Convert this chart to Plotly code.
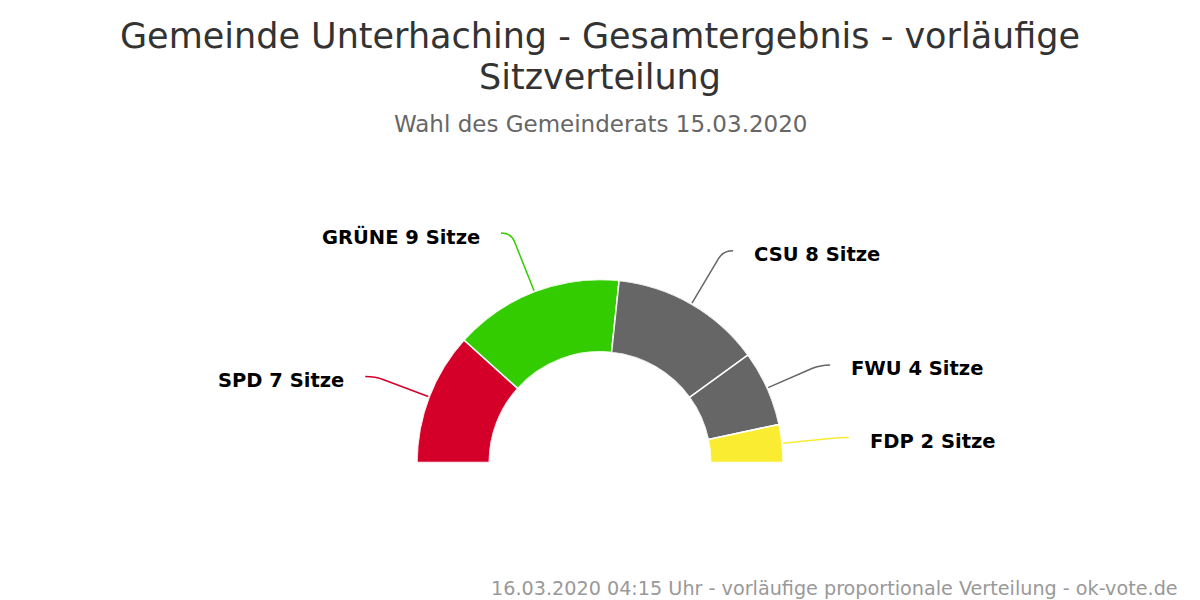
import math
import plotly.graph_objects as go

# ---- data ----
parties = ["SPD", "GRÜNE", "CSU", "FWU", "FDP"]
seats = [7, 9, 8, 4, 2]
colors = ["#d4002a", "#33cc00", "#666666", "#666666", "#f9ec31"]
title_line1 = "Gemeinde Unterhaching - Gesamtergebnis - vorläufige"
title_line2 = "Sitzverteilung"
subtitle = "Wahl des Gemeinderats 15.03.2020"
footer = "16.03.2020 04:15 Uhr - vorläufige proportionale Verteilung - ok-vote.de"

# ---- layout constants (pixels) ----
W, H = 1200, 600
CX, CY = 600.0, 462.5      # centre of the half donut
R = 183.0                   # outer radius
HOLE = 0.605
LABEL_R = 250.0
FONT = "DejaVu Sans, Verdana, sans-serif"

total = sum(seats)
deg_per_seat = 180.0 / total

# barpolar positions (theta measured clockwise from the left)
widths = [s * deg_per_seat for s in seats]
centers = []
acc = 0.0
for w in widths:
    centers.append(acc + w / 2)
    acc += w

fig = go.Figure()
fig.add_trace(go.Barpolar(
    r=[1] * len(seats),
    theta=centers,
    width=widths,
    marker=dict(color=colors, line=dict(color="white", width=1.5)),
    text=[f"{p} {s} Sitze" for p, s in zip(parties, seats)],
    hoverinfo="text",
    showlegend=False,
))


def px_to_paper(x, y):
    return x / W, 1 - y / H


shapes = []
annotations = []
for p, s, c, col in zip(parties, seats, centers, colors):
    a_deg = 180.0 - c                     # standard maths angle of slice middle
    ang = math.radians(a_deg)
    side = -1 if math.cos(ang) < 0 else 1  # -1: label on the left
    # label anchor drifts slightly towards the horizontal
    a_lab = math.radians(a_deg - side * 2.5 * math.sin(ang))
    ax, ay = CX + (R + 1) * math.cos(ang), CY - (R + 1) * math.sin(ang)
    dx, dy = CX + LABEL_R * math.cos(a_lab), CY - LABEL_R * math.sin(a_lab)
    cx_, cy_ = dx - side * 10, dy
    vx, vy = ax - cx_, ay - cy_
    L = math.hypot(vx, vy)
    px_, py_ = cx_ + vx * 9 / L, cy_ + vy * 9 / L
    pts = [(ax, ay), (px_, py_), (cx_, cy_), (dx, dy)]
    pp = [px_to_paper(*q) for q in pts]
    path = (f"M {pp[0][0]},{pp[0][1]} L {pp[1][0]},{pp[1][1]} "
            f"Q {pp[2][0]},{pp[2][1]} {pp[3][0]},{pp[3][1]}")
    shapes.append(dict(type="path", path=path, xref="paper", yref="paper",
                       line=dict(color=col, width=1.5)))
    lx, ly = px_to_paper(dx + side * 19, dy + 4)
    annotations.append(dict(
        text=f"<b>{p} {s} Sitze</b>", x=lx, y=ly, xref="paper", yref="paper",
        xanchor="left" if side > 0 else "right", yanchor="middle",
        showarrow=False, font=dict(family=FONT, size=19.5, color="#000000"),
    ))

# titles
for txt, y, size, color in [(title_line1, 36, 35, "#333333"),
                            (title_line2, 77, 35, "#333333"),
                            (subtitle, 124, 23, "#666666")]:
    annotations.append(dict(text=txt, x=0.5, y=1 - y / H, xref="paper", yref="paper",
                            xanchor="center", yanchor="middle", showarrow=False,
                            font=dict(family=FONT, size=size, color=color)))
annotations.append(dict(text=footer, x=1180 / W, y=1 - 588 / H, xref="paper", yref="paper",
                        xanchor="right", yanchor="middle", showarrow=False,
                        font=dict(family=FONT, size=19.2, color="#999999")))

dom_x = [(CX - R) / W, (CX + R) / W]
dom_y = [(H - CY) / H, (H - CY + R) / H]

fig.update_layout(
    width=W, height=H, autosize=False,
    margin=dict(l=0, r=0, t=0, b=0),
    paper_bgcolor="white", plot_bgcolor="white",
    polar=dict(
        domain=dict(x=dom_x, y=dom_y),
        sector=[0, 180],
        hole=HOLE,
        bgcolor="white",
        radialaxis=dict(range=[0, 1], visible=False, showgrid=False),
        angularaxis=dict(rotation=180, direction="clockwise", visible=False,
                         showgrid=False, thetaunit="degrees"),
        bargap=0,
    ),
    shapes=shapes,
    annotations=annotations,
)

fig.write_html("out.html",
               config={"displayModeBar": False},
               post_script="document.body.style.margin='0';document.body.style.overflow='hidden';")
